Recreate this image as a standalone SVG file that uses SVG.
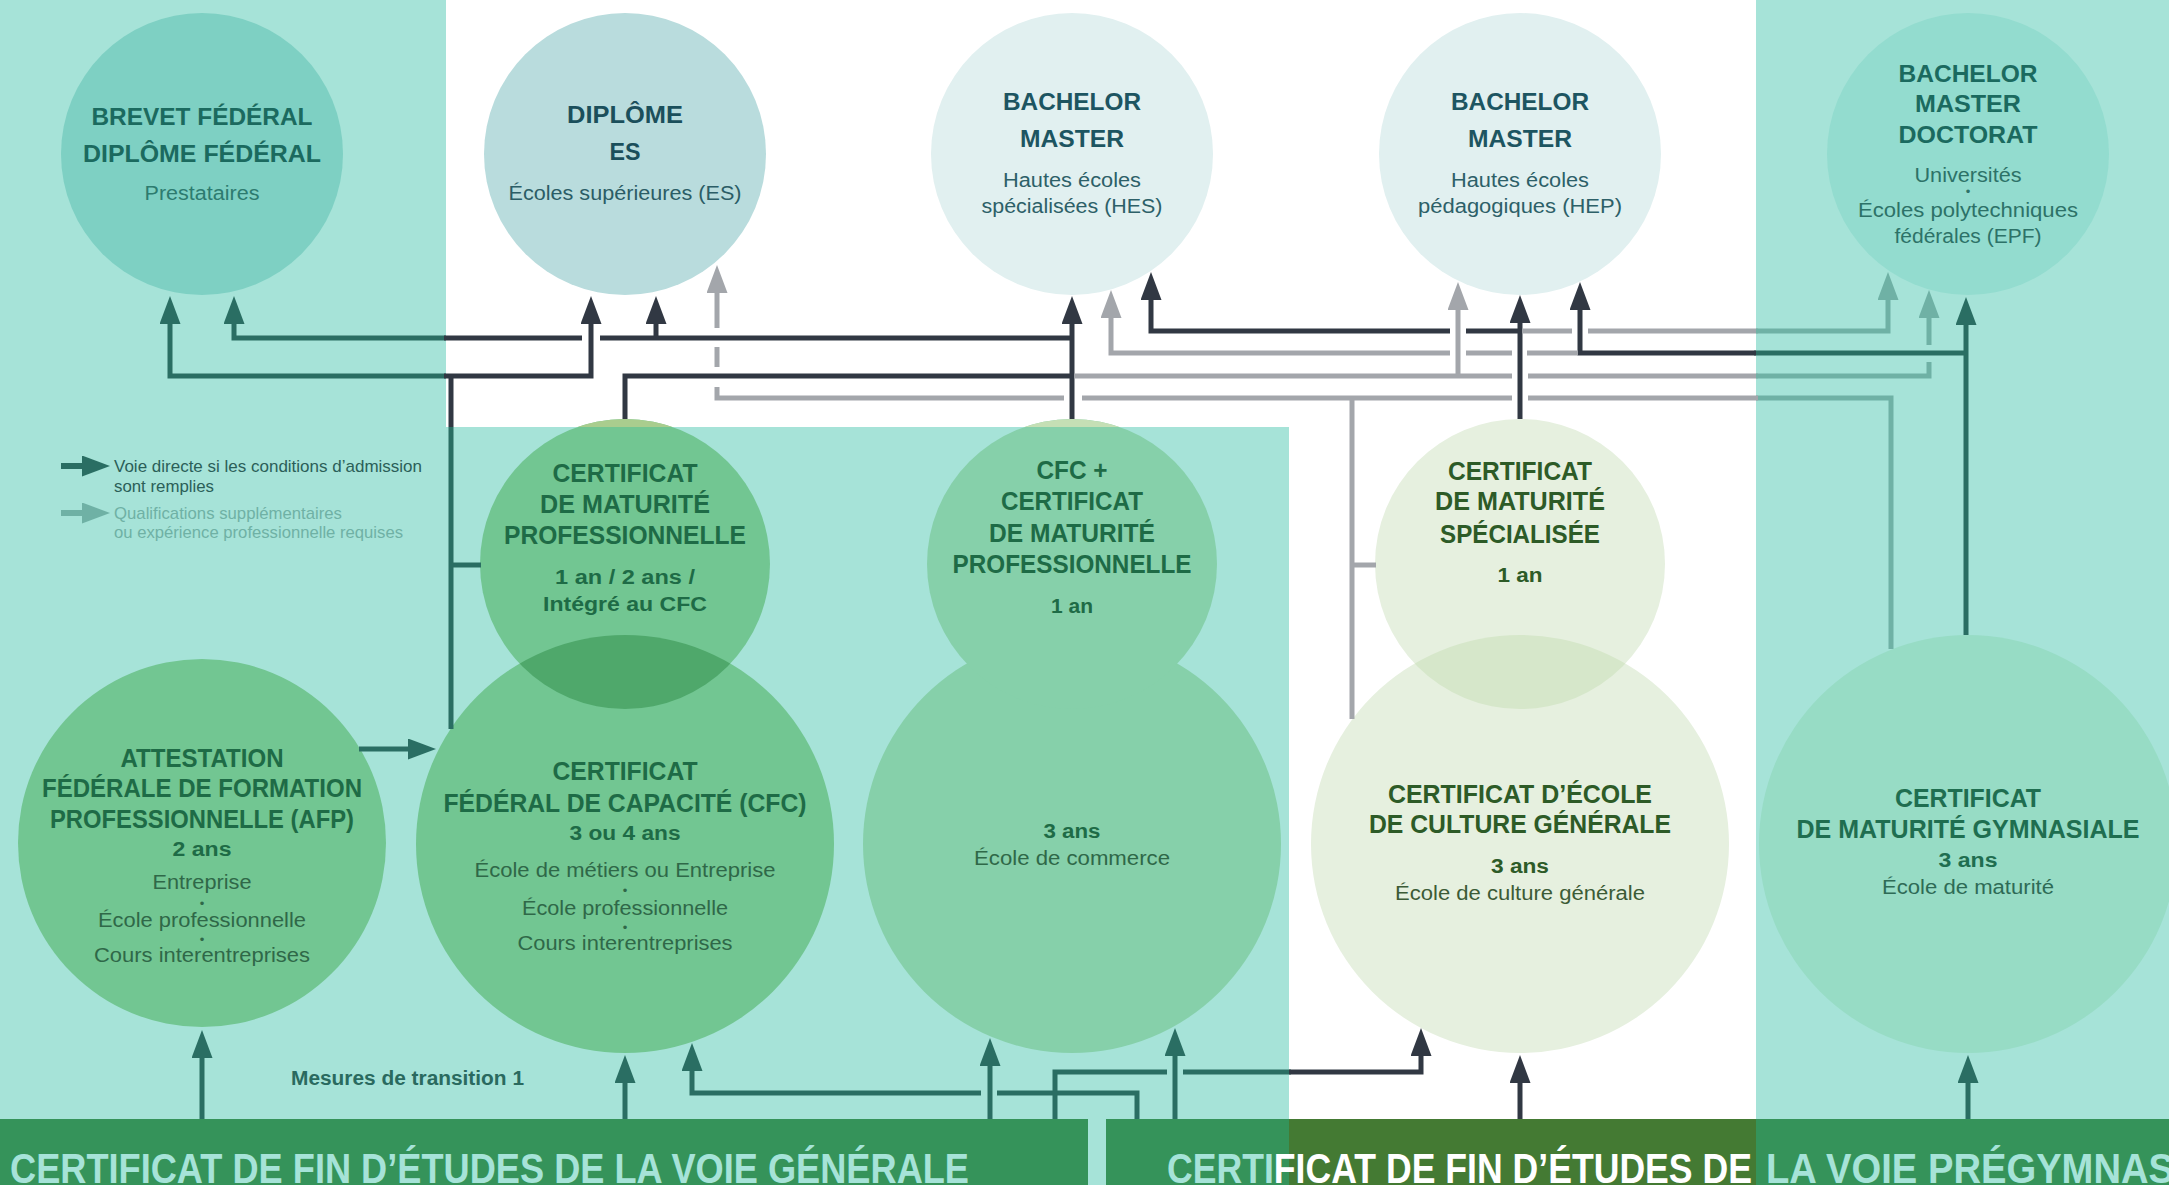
<svg xmlns="http://www.w3.org/2000/svg" width="2169" height="1185" viewBox="0 0 2169 1185">
<defs>
<style>
text{font-family:"Liberation Sans Narrow","Liberation Sans",Arial,sans-serif}
.c{text-anchor:middle}
.tt{font-size:24px;font-weight:700}
.tm{font-size:25px;font-weight:700}
.s{font-size:20px}
.sb{font-size:20px;font-weight:700}
.bul{font-size:13px}
.bar{font-size:42px;font-weight:700}
.ln{fill:none;stroke-width:5;stroke-linecap:butt;stroke-linejoin:miter}
.nv{stroke:#313843}
.dt{stroke:#2a6e63}
.gy{stroke:#a3a6ab}
.gt{stroke:#6fb1a5}
.panel{fill:#a6e3d8}
</style>
<marker id="aN" markerUnits="userSpaceOnUse" markerWidth="28" markerHeight="21" viewBox="0 0 28 21" refX="1" refY="10.5" orient="auto"><path d="M0,0L28,10.5L0,21z" fill="#313843"/></marker>
<marker id="aD" markerUnits="userSpaceOnUse" markerWidth="28" markerHeight="21" viewBox="0 0 28 21" refX="1" refY="10.5" orient="auto"><path d="M0,0L28,10.5L0,21z" fill="#2a6e63"/></marker>
<marker id="aG" markerUnits="userSpaceOnUse" markerWidth="28" markerHeight="21" viewBox="0 0 28 21" refX="1" refY="10.5" orient="auto"><path d="M0,0L28,10.5L0,21z" fill="#a3a6ab"/></marker>
<marker id="aT" markerUnits="userSpaceOnUse" markerWidth="28" markerHeight="21" viewBox="0 0 28 21" refX="1" refY="10.5" orient="auto"><path d="M0,0L28,10.5L0,21z" fill="#6fb1a5"/></marker>
<clipPath id="clipTop"><rect x="0" y="0" width="2169" height="427"/></clipPath>
<clipPath id="clipCFC"><circle cx="625" cy="844" r="209"/></clipPath>
<clipPath id="clipECG"><circle cx="1520" cy="844" r="209"/></clipPath>
</defs>

<!-- background and panels -->
<rect x="0" y="0" width="2169" height="1185" fill="#ffffff"/>
<rect class="panel" x="0" y="0" width="446" height="1185"/>
<rect class="panel" x="1756" y="0" width="413" height="1185"/>
<rect class="panel" x="446" y="427" width="843" height="758"/>

<!-- top row -->
<g id="n-brevet">
<circle cx="202" cy="154" r="141" fill="#7ed0c3"/>
<text class="c tt" x="202" y="125" textLength="221" lengthAdjust="spacingAndGlyphs" fill="#1b6a5f">BREVET FÉDÉRAL</text>
<text class="c tt" x="202" y="162" textLength="238" lengthAdjust="spacingAndGlyphs" fill="#1b6a5f">DIPLÔME FÉDÉRAL</text>
<text class="c s" x="202" y="200" textLength="115" lengthAdjust="spacingAndGlyphs" fill="#2d7b6f">Prestataires</text>
</g>
<g id="n-es">
<circle cx="625" cy="154" r="141" fill="#b9dcdd"/>
<text class="c tt" x="625" y="123" textLength="116" lengthAdjust="spacingAndGlyphs" fill="#1b4f5b">DIPLÔME</text>
<text class="c tt" x="625" y="160" textLength="31" lengthAdjust="spacingAndGlyphs" fill="#1b4f5b">ES</text>
<text class="c s" x="625" y="200" textLength="233" lengthAdjust="spacingAndGlyphs" fill="#2b5d66">Écoles supérieures (ES)</text>
</g>
<g id="n-hes">
<circle cx="1072" cy="154" r="141" fill="#e1f0f0"/>
<text class="c tt" x="1072" y="110" textLength="138" lengthAdjust="spacingAndGlyphs" fill="#1d5561">BACHELOR</text>
<text class="c tt" x="1072" y="147" textLength="104" lengthAdjust="spacingAndGlyphs" fill="#1d5561">MASTER</text>
<text class="c s" x="1072" y="187" textLength="138" lengthAdjust="spacingAndGlyphs" fill="#2d6068">Hautes écoles</text>
<text class="c s" x="1072" y="213" textLength="181" lengthAdjust="spacingAndGlyphs" fill="#2d6068">spécialisées (HES)</text>
</g>
<g id="n-hep">
<circle cx="1520" cy="154" r="141" fill="#e1f0f0"/>
<text class="c tt" x="1520" y="110" textLength="138" lengthAdjust="spacingAndGlyphs" fill="#1d5561">BACHELOR</text>
<text class="c tt" x="1520" y="147" textLength="104" lengthAdjust="spacingAndGlyphs" fill="#1d5561">MASTER</text>
<text class="c s" x="1520" y="187" textLength="138" lengthAdjust="spacingAndGlyphs" fill="#2d6068">Hautes écoles</text>
<text class="c s" x="1520" y="213" textLength="204" lengthAdjust="spacingAndGlyphs" fill="#2d6068">pédagogiques (HEP)</text>
</g>
<g id="n-uni">
<circle cx="1968" cy="154" r="141" fill="#93dccf"/>
<text class="c tt" x="1968" y="82" textLength="139" lengthAdjust="spacingAndGlyphs" fill="#1b6a5f">BACHELOR</text>
<text class="c tt" x="1968" y="112" textLength="106" lengthAdjust="spacingAndGlyphs" fill="#1b6a5f">MASTER</text>
<text class="c tt" x="1968" y="143" textLength="139" lengthAdjust="spacingAndGlyphs" fill="#1b6a5f">DOCTORAT</text>
<text class="c s" x="1968" y="182" textLength="107" lengthAdjust="spacingAndGlyphs" fill="#2d7268">Universités</text>
<text class="c bul" x="1968" y="196" fill="#2d7268">•</text>
<text class="c s" x="1968" y="217" textLength="220" lengthAdjust="spacingAndGlyphs" fill="#2d7268">Écoles polytechniques</text>
<text class="c s" x="1968" y="243" textLength="147" lengthAdjust="spacingAndGlyphs" fill="#2d7268">fédérales (EPF)</text>
</g>

<!-- middle / bottom rows -->
<g id="n-afp">
<circle cx="202" cy="843" r="184" fill="#72c692"/>
<text class="c tm" x="202" y="767" textLength="163" lengthAdjust="spacingAndGlyphs" fill="#1e6b46">ATTESTATION</text>
<text class="c tm" x="202" y="797" textLength="320" lengthAdjust="spacingAndGlyphs" fill="#1e6b46">FÉDÉRALE DE FORMATION</text>
<text class="c tm" x="202" y="828" textLength="304" lengthAdjust="spacingAndGlyphs" fill="#1e6b46">PROFESSIONNELLE (AFP)</text>
<text class="c sb" x="202" y="856" textLength="59" lengthAdjust="spacingAndGlyphs" fill="#1e6b46">2 ans</text>
<text class="c s" x="202" y="889" textLength="99" lengthAdjust="spacingAndGlyphs" fill="#2f6848">Entreprise</text>
<text class="c bul" x="202" y="908" fill="#2f6848">•</text>
<text class="c s" x="202" y="927" textLength="208" lengthAdjust="spacingAndGlyphs" fill="#2f6848">École professionnelle</text>
<text class="c bul" x="202" y="944" fill="#2f6848">•</text>
<text class="c s" x="202" y="962" textLength="216" lengthAdjust="spacingAndGlyphs" fill="#2f6848">Cours interentreprises</text>
</g>
<g id="n-cfc">
<circle cx="625" cy="844" r="209" fill="#72c692"/>
<text class="c tm" x="625" y="780" textLength="145" lengthAdjust="spacingAndGlyphs" fill="#1e6b46">CERTIFICAT</text>
<text class="c tm" x="625" y="812" textLength="363" lengthAdjust="spacingAndGlyphs" fill="#1e6b46">FÉDÉRAL DE CAPACITÉ (CFC)</text>
<text class="c sb" x="625" y="840" textLength="111" lengthAdjust="spacingAndGlyphs" fill="#1e6b46">3 ou 4 ans</text>
<text class="c s" x="625" y="877" textLength="301" lengthAdjust="spacingAndGlyphs" fill="#2f6848">École de métiers ou Entreprise</text>
<text class="c bul" x="625" y="895" fill="#2f6848">•</text>
<text class="c s" x="625" y="915" textLength="206" lengthAdjust="spacingAndGlyphs" fill="#2f6848">École professionnelle</text>
<text class="c bul" x="625" y="932" fill="#2f6848">•</text>
<text class="c s" x="625" y="950" textLength="215" lengthAdjust="spacingAndGlyphs" fill="#2f6848">Cours interentreprises</text>
</g>
<g id="n-mp">
<circle cx="625" cy="564" r="145" fill="#72c692"/>
<circle cx="625" cy="564" r="145" fill="#4fa86b" clip-path="url(#clipCFC)"/>
<circle cx="625" cy="564" r="145" fill="#a9cd8e" clip-path="url(#clipTop)"/>
<text class="c tm" x="625" y="482" textLength="145" lengthAdjust="spacingAndGlyphs" fill="#1e6b46">CERTIFICAT</text>
<text class="c tm" x="625" y="513" textLength="170" lengthAdjust="spacingAndGlyphs" fill="#1e6b46">DE MATURITÉ</text>
<text class="c tm" x="625" y="544" textLength="242" lengthAdjust="spacingAndGlyphs" fill="#1e6b46">PROFESSIONNELLE</text>
<text class="c sb" x="625" y="584" textLength="140" lengthAdjust="spacingAndGlyphs" fill="#1e6b46">1 an / 2 ans /</text>
<text class="c sb" x="625" y="611" textLength="164" lengthAdjust="spacingAndGlyphs" fill="#1e6b46">Intégré au CFC</text>
</g>
<g id="n-cfcmp">
<circle cx="1072" cy="844" r="209" fill="#86d0aa"/>
<circle cx="1072" cy="564" r="145" fill="#86d0aa"/>
<circle cx="1072" cy="564" r="145" fill="#c5dfb5" clip-path="url(#clipTop)"/>
<text class="c tm" x="1072" y="479" textLength="71" lengthAdjust="spacingAndGlyphs" fill="#1e6b46">CFC +</text>
<text class="c tm" x="1072" y="510" textLength="142" lengthAdjust="spacingAndGlyphs" fill="#1e6b46">CERTIFICAT</text>
<text class="c tm" x="1072" y="542" textLength="166" lengthAdjust="spacingAndGlyphs" fill="#1e6b46">DE MATURITÉ</text>
<text class="c tm" x="1072" y="573" textLength="239" lengthAdjust="spacingAndGlyphs" fill="#1e6b46">PROFESSIONNELLE</text>
<text class="c sb" x="1072" y="613" textLength="42" lengthAdjust="spacingAndGlyphs" fill="#1e6b46">1 an</text>
<text class="c sb" x="1072" y="838" textLength="57" lengthAdjust="spacingAndGlyphs" fill="#1e6b46">3 ans</text>
<text class="c s" x="1072" y="865" textLength="196" lengthAdjust="spacingAndGlyphs" fill="#2f6848">École de commerce</text>
</g>
<g id="n-ecg">
<circle cx="1520" cy="844" r="209" fill="#e6f0df"/>
<text class="c tm" x="1520" y="803" textLength="264" lengthAdjust="spacingAndGlyphs" fill="#2d5b27">CERTIFICAT D’ÉCOLE</text>
<text class="c tm" x="1520" y="833" textLength="302" lengthAdjust="spacingAndGlyphs" fill="#2d5b27">DE CULTURE GÉNÉRALE</text>
<text class="c sb" x="1520" y="873" textLength="58" lengthAdjust="spacingAndGlyphs" fill="#2d5b27">3 ans</text>
<text class="c s" x="1520" y="900" textLength="250" lengthAdjust="spacingAndGlyphs" fill="#3c5b36">École de culture générale</text>
</g>
<g id="n-cms">
<circle cx="1520" cy="564" r="145" fill="#e6f0df"/>
<circle cx="1520" cy="564" r="145" fill="#d6e7ca" clip-path="url(#clipECG)"/>
<text class="c tm" x="1520" y="480" textLength="144" lengthAdjust="spacingAndGlyphs" fill="#2d5b27">CERTIFICAT</text>
<text class="c tm" x="1520" y="510" textLength="170" lengthAdjust="spacingAndGlyphs" fill="#2d5b27">DE MATURITÉ</text>
<text class="c tm" x="1520" y="543" textLength="160" lengthAdjust="spacingAndGlyphs" fill="#2d5b27">SPÉCIALISÉE</text>
<text class="c sb" x="1520" y="582" textLength="45" lengthAdjust="spacingAndGlyphs" fill="#2d5b27">1 an</text>
</g>
<g id="n-gym">
<circle cx="1968" cy="844" r="209" fill="#97dcc5"/>
<text class="c tm" x="1968" y="807" textLength="146" lengthAdjust="spacingAndGlyphs" fill="#1f6e50">CERTIFICAT</text>
<text class="c tm" x="1968" y="838" textLength="343" lengthAdjust="spacingAndGlyphs" fill="#1f6e50">DE MATURITÉ GYMNASIALE</text>
<text class="c sb" x="1968" y="867" textLength="59" lengthAdjust="spacingAndGlyphs" fill="#1f6e50">3 ans</text>
<text class="c s" x="1968" y="894" textLength="172" lengthAdjust="spacingAndGlyphs" fill="#2e6b56">École de maturité</text>
</g>

<!-- connectors -->
<g id="connectors">
<!-- CFC / MP to Brevet & ES -->
<path class="ln dt" d="M446,376H170V323" marker-end="url(#aD)"/>
<path class="ln nv" d="M444,376H591V323" marker-end="url(#aN)"/>
<path class="ln nv" d="M451,374V427"/>
<path class="ln dt" d="M451,427V729"/>
<path class="ln dt" d="M451,565H481"/>
<!-- CFC+MP to Brevet, ES, HES -->
<path class="ln dt" d="M446,338H234V323" marker-end="url(#aD)"/>
<path class="ln nv" d="M444,338H582"/>
<path class="ln nv" d="M600,338H1074"/>
<path class="ln nv" d="M656,340V323" marker-end="url(#aN)"/>
<path class="ln nv" d="M1072,419V323" marker-end="url(#aN)"/>
<!-- MP to HES (direct) then HEP / Uni (grey) -->
<path class="ln nv" d="M625,419V376H1074"/>
<path class="ln gy" d="M1074,376H1512"/>
<path class="ln gy" d="M1528,376H1758"/>
<path class="ln gt" d="M1756,376H1929V362"/>
<path class="ln gt" d="M1929,345V317" marker-end="url(#aT)"/>
<path class="ln gy" d="M1458,378V309" marker-end="url(#aG)"/>
<!-- Gymnasiale to Uni, HEP (direct), HES (grey) -->
<path class="ln dt" d="M1966,635V324" marker-end="url(#aD)"/>
<path class="ln dt" d="M1968,353H1754"/>
<path class="ln nv" d="M1756,353H1580V309" marker-end="url(#aN)"/>
<path class="ln gy" d="M1578,353H1527"/>
<path class="ln gy" d="M1512,353H1466"/>
<path class="ln gy" d="M1450,353H1111V317" marker-end="url(#aG)"/>
<!-- CMS to HEP, HES (direct), Uni (grey) -->
<path class="ln nv" d="M1520,419V322" marker-end="url(#aN)"/>
<path class="ln nv" d="M1522,331H1466"/>
<path class="ln nv" d="M1450,331H1151V299" marker-end="url(#aN)"/>
<path class="ln gy" d="M1522,331H1572"/>
<path class="ln gy" d="M1588,331H1758"/>
<path class="ln gt" d="M1756,331H1888V299" marker-end="url(#aT)"/>
<!-- ECG / CMS / Gymnasiale to ES (grey) -->
<path class="ln gt" d="M1891,649V398H1756"/>
<path class="ln gy" d="M1758,398H1528"/>
<path class="ln gy" d="M1512,398H1082"/>
<path class="ln gy" d="M1064,398H717V387"/>
<path class="ln gy" d="M717,367V347"/>
<path class="ln gy" d="M717,328V292" marker-end="url(#aG)"/>
<path class="ln gy" d="M1352,396V719"/>
<path class="ln gy" d="M1352,565H1376"/>
<!-- AFP to CFC -->
<path class="ln dt" d="M359,749H409" marker-end="url(#aD)"/>
<!-- from the bottom bars -->
<path class="ln dt" d="M202,1119V1057" marker-end="url(#aD)"/>
<path class="ln dt" d="M625,1119V1082" marker-end="url(#aD)"/>
<path class="ln dt" d="M1137,1119V1093H997"/>
<path class="ln dt" d="M981,1093H692V1070" marker-end="url(#aD)"/>
<path class="ln dt" d="M990,1119V1065" marker-end="url(#aD)"/>
<path class="ln dt" d="M1055,1119V1072H1167"/>
<path class="ln dt" d="M1183,1072H1291"/>
<path class="ln nv" d="M1289,1072H1421V1055" marker-end="url(#aN)"/>
<path class="ln dt" d="M1175,1119V1055" marker-end="url(#aD)"/>
<path class="ln nv" d="M1520,1119V1082" marker-end="url(#aN)"/>
<path class="ln dt" d="M1968,1119V1082" marker-end="url(#aD)"/>
</g>

<g id="label-transition">
<text x="291" y="1085" font-size="20" font-weight="700" textLength="233" lengthAdjust="spacingAndGlyphs" fill="#2a6a5f">Mesures de transition 1</text>
</g>

<!-- legend -->
<g id="legend">
<path d="M61,466H83" stroke="#2a6e63" stroke-width="6" fill="none" marker-end="url(#aD)"/>
<text x="114" y="472" font-size="17" textLength="308" lengthAdjust="spacingAndGlyphs" fill="#2b5f58">Voie directe si les conditions d’admission</text>
<text x="114" y="492" font-size="17" textLength="100" lengthAdjust="spacingAndGlyphs" fill="#2b5f58">sont remplies</text>
<path d="M61,513H83" stroke="#6fb1a5" stroke-width="6" fill="none" marker-end="url(#aT)"/>
<text x="114" y="519" font-size="17" textLength="228" lengthAdjust="spacingAndGlyphs" fill="#6fb1a5">Qualifications supplémentaires</text>
<text x="114" y="538" font-size="17" textLength="289" lengthAdjust="spacingAndGlyphs" fill="#6fb1a5">ou expérience professionnelle requises</text>
</g>

<!-- bottom bars -->
<g id="bar-generale">
<rect x="0" y="1119" width="1088" height="66" fill="#35935a"/>
<text class="bar" x="10" y="1183" textLength="959" lengthAdjust="spacingAndGlyphs" fill="#a6e3d8">CERTIFICAT DE FIN D’ÉTUDES DE LA VOIE GÉNÉRALE</text>
</g>
<g id="bar-pregymnasiale">
<rect x="1106" y="1119" width="1063" height="66" fill="#35935a"/>
<rect x="1289" y="1119" width="467" height="66" fill="#447a33"/>
<text class="bar" x="1167" y="1183" textLength="585" lengthAdjust="spacingAndGlyphs" fill="#a6e3d8">CERTI<tspan fill="#ffffff">FICAT DE FIN D’ÉTUDES DE</tspan></text>
<text class="bar" x="1766" y="1183" textLength="495" lengthAdjust="spacingAndGlyphs" fill="#a6e3d8">LA VOIE PRÉGYMNASIALE</text>
</g>
</svg>
